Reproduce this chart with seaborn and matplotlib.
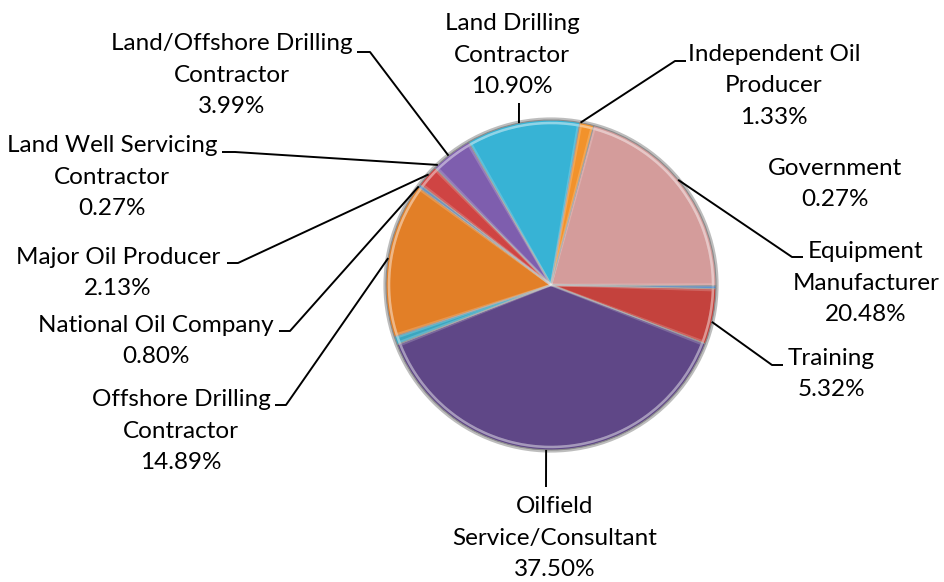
import numpy as np
import matplotlib.pyplot as plt
import seaborn as sns
from matplotlib.patches import Wedge, Circle

# data, clockwise from the top-right slice
categories = ["Equipment\nManufacturer", "Government", "Training",
              "Oilfield\nService/Consultant", "National Oil Company",
              "Offshore Drilling\nContractor", "Land Well Servicing\nContractor",
              "Major Oil Producer", "Land/Offshore Drilling\nContractor",
              "Land Drilling\nContractor", "Independent Oil\nProducer"]
shares = [20.48, 0.27, 5.32, 37.50, 0.80, 14.89, 0.27, 2.13, 3.99, 10.90, 1.33]
colors = ["#D49C9B", "#3F7DC4", "#C4423D", "#5F4787", "#3BA6C0", "#E27F27",
          "#3F7DC4", "#CF4443", "#7E5EAE", "#37B3D5", "#F2922B"]

# label layout in pixels: text centre, leader anchor angle on the rim, elbow, end
text_pos = [(866, 283), (835, 184), (831, 374), (555, 538), (156, 341), (181, 431),
            (112, 177), (118, 273), (232, 75), (512, 55), (774, 86)]
leaders = [(39.6, (792, 257), (803, 257)),
           None,
           (-12.9, (772, 365), (783, 365)),
           (-91.7, (546, 487), (546, 487)),
           (143.3, (290, 331), (279, 331)),
           (170.6, (286, 405), (275, 405)),
           (133.3, (235, 152), (222, 152)),
           (137.9, (238, 263), (227, 263)),
           (128.4, (370, 52), (357, 52)),
           (101.2, (519, 103), (519, 103)),
           (79.7, (675, 61), (686, 61))]

sns.set_style("white")
plt.rcParams['font.family'] = ['Lato', 'DejaVu Sans']

W, H = 945, 582
fig = plt.figure(figsize=(9.45, 5.82), dpi=100)
ax = fig.add_axes([0, 0, 1, 1])

cx, cy, r = 551, H - 285, 165
ax.add_patch(Circle((cx, cy), r + 1.2, fc="none", ec="#bdbdbd", lw=2, zorder=0))
wedges, _ = ax.pie(shares, colors=colors, startangle=75, counterclock=False,
                   center=(cx, cy), radius=r,
                   wedgeprops=dict(edgecolor="#8a8a8a", linewidth=0.8))
# soft bevel highlight along each slice
for w in wedges:
    ax.add_patch(Wedge((cx, cy), r - 3, w.theta1 + 0.5, w.theta2 - 0.5,
                       fc="none", ec="white", lw=1.8, alpha=0.18, zorder=3))

for lab, val, (tx, ty), ld in zip(categories, shares, text_pos, leaders):
    ax.text(tx, H - ty, f"{lab}\n{val:.2f}%", ha="center", va="center",
            fontsize=17.5, linespacing=1.6, multialignment="center", color="black")
    if ld is None:
        continue
    ang, elbow, end = ld
    a = np.deg2rad(ang)
    px, py = cx + r * np.cos(a), cy + r * np.sin(a)
    ax.plot([px, elbow[0], end[0]], [py, H - elbow[1], H - end[1]],
            color="black", lw=1.4, solid_capstyle="butt", zorder=4)

ax.set_xlim(0, W)
ax.set_ylim(0, H)
ax.set_aspect("equal")
ax.axis("off")
fig.savefig("out.png", dpi=100, facecolor="white")
